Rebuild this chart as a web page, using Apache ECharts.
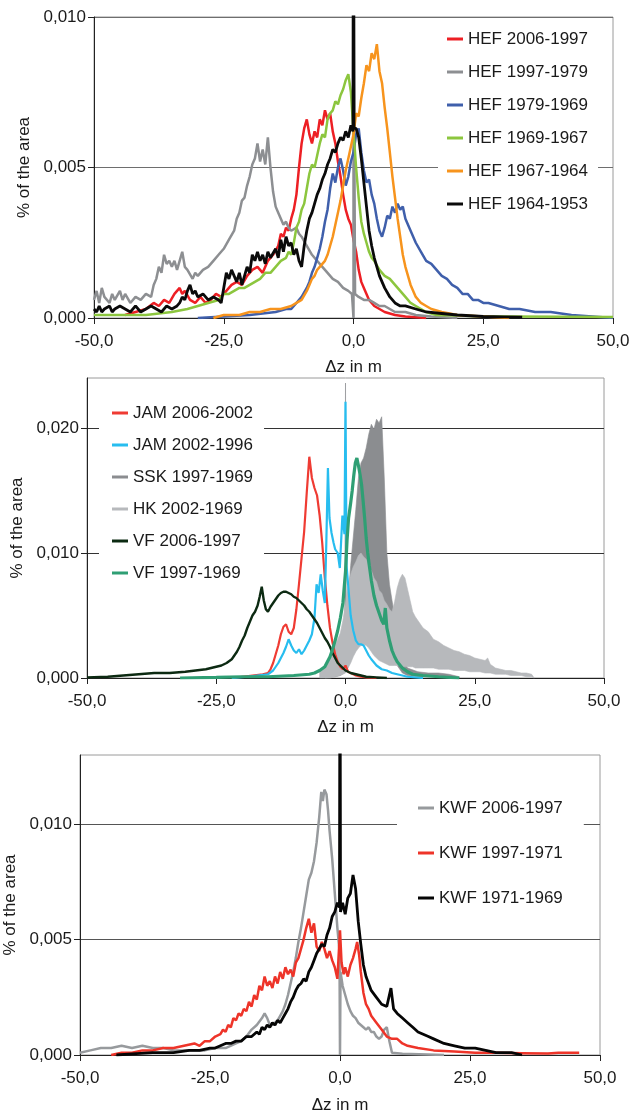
<!DOCTYPE html>
<html>
<head>
<meta charset="utf-8">
<script src="https://cdn.jsdelivr.net/npm/echarts@6/dist/echarts.min.js"></script>
<style>
  html, body { margin: 0; padding: 0; background: #fff; }
  #chart { width: 630px; height: 1115px; }
</style>
</head>
<body>
<div id="chart"></div>
<script>
// ---- data: [dz (m), share of area] ----
// panel 1 (HEF)
const hef2006_1997 = [[-44,0.0001],[-42,0.0002],[-40,0.0003],[-38.5,0.0005],[-37.5,0.0004],[-36.5,0.0006],[-35.5,0.0005],[-34.5,0.0008],[-33.5,0.0010],[-33,0.0008],[-32.5,0.0009],[-31.5,0.0006],[-30.5,0.0005],[-29.5,0.0007],[-28.5,0.0005],[-27.5,0.0006],[-26.5,0.0008],[-25.5,0.0007],[-24.5,0.0009],[-23.5,0.0011],[-22.5,0.0012],[-21.5,0.0011],[-20.5,0.0014],[-19.5,0.0016],[-18.5,0.0017],[-17.5,0.0015],[-16.5,0.0019],[-15.5,0.0021],[-14.5,0.0024],[-14,0.0028],[-13.5,0.0027],[-13,0.0030],[-12.5,0.0029],[-12,0.0033],[-11.5,0.0036],[-11,0.0041],[-10.5,0.0050],[-10,0.0058],[-9.5,0.0063],[-9,0.0066],[-8.5,0.0061],[-8,0.0058],[-7.5,0.0062],[-7,0.0060],[-6.5,0.0066],[-6,0.0064],[-5.5,0.0069],[-5,0.0066],[-4.5,0.0068],[-4,0.0062],[-3.5,0.0058],[-3,0.0052],[-2.5,0.0047],[-2,0.0041],[-1.5,0.0036],[-1,0.0033],[-0.5,0.0031],[0,0.0026],[0.5,0.0022],[1,0.0016],[1.5,0.0012],[2,0.0010],[2.5,0.0008],[3,0.0006],[4,0.0004],[5,0.0003],[6,0.0002],[8,0.0001],[10,0.00005],[14,0]];
const hef1997_1979 = [[-50,0.0006],[-49.5,0.0009],[-49,0.0005],[-48.5,0.0010],[-48,0.0007],[-47,0.0005],[-46.5,0.0008],[-46,0.0006],[-45,0.0009],[-44.5,0.0006],[-44,0.0008],[-43,0.0005],[-42,0.0007],[-41,0.0006],[-40,0.0008],[-39,0.0007],[-38.5,0.0011],[-38,0.0013],[-37.5,0.0017],[-37,0.0015],[-36.5,0.0021],[-36,0.0018],[-35.5,0.0019],[-35,0.0017],[-34.5,0.0019],[-34,0.0016],[-33.5,0.0019],[-33,0.0022],[-32.5,0.0017],[-32,0.0016],[-31,0.0013],[-30.5,0.0015],[-30,0.0014],[-29,0.0016],[-28,0.0017],[-27,0.0019],[-26,0.0021],[-25,0.0023],[-24,0.0026],[-23,0.0029],[-22.5,0.0033],[-22,0.0035],[-21.5,0.0039],[-21,0.0040],[-20.5,0.0044],[-20,0.0047],[-19.5,0.0051],[-19,0.0053],[-18.5,0.0058],[-18,0.0052],[-17.5,0.0056],[-17,0.0051],[-16.5,0.0060],[-16,0.0050],[-15.5,0.0042],[-15,0.0037],[-14.5,0.0035],[-14,0.0033],[-13.5,0.0031],[-13,0.0032],[-12.5,0.0030],[-12,0.0029],[-11,0.0030],[-10.5,0.0028],[-10,0.0027],[-9,0.0024],[-8,0.0021],[-7,0.0019],[-6,0.0017],[-5,0.0015],[-4,0.0013],[-3,0.0012],[-2,0.0010],[-1,0.0009],[-0.3,0.0008],[0,0],[0,0.012],[0.3,0.0008],[1,0.0007],[2,0.0006],[3,0.0006],[4,0.0005],[5,0.0004],[6,0.0004],[7,0.0003],[8,0.0002],[10,0.0002],[12,0.0001],[15,0.00005],[20,0]];
const hef1979_1969 = [[-30,0],[-25,0.00005],[-20,0.0001],[-15,0.0002],[-13,0.0003],[-12,0.0003],[-11,0.0005],[-10,0.0007],[-9,0.0010],[-8.5,0.0012],[-8,0.0015],[-7.5,0.0017],[-7,0.0020],[-6.5,0.0023],[-6,0.0027],[-5.5,0.0032],[-5,0.0036],[-4.5,0.0043],[-4,0.0048],[-3.5,0.0045],[-3,0.0050],[-2.5,0.0053],[-2,0.0049],[-1.5,0.0044],[-1,0.0047],[-0.5,0.0052],[0,0.0055],[0.5,0.0061],[1,0.0063],[1.5,0.0055],[2,0.0049],[2.5,0.0045],[3,0.0046],[3.5,0.0041],[4,0.0038],[4.5,0.0033],[5,0.0029],[5.5,0.0027],[6,0.0030],[6.5,0.0034],[7,0.0033],[7.5,0.0037],[8,0.0035],[8.5,0.0038],[9,0.0036],[9.5,0.0037],[10,0.0033],[10.5,0.0031],[11,0.0029],[11.5,0.0027],[12,0.0025],[13,0.0022],[14,0.0019],[15,0.0018],[16,0.0016],[17,0.0014],[18,0.0013],[19,0.0011],[20,0.0010],[21,0.0008],[22,0.0008],[23,0.0006],[24,0.0006],[25,0.0005],[26,0.0005],[28,0.0004],[30,0.0003],[32,0.0003],[35,0.0002],[38,0.0002],[42,0.0001],[46,0.00005],[50,0]];
const hef1969_1967 = [[-50,0.0001],[-45,0.0001],[-40,0.0001],[-35,0.0002],[-32,0.0003],[-30,0.0004],[-28,0.0005],[-26,0.0006],[-25,0.0008],[-24,0.0008],[-23,0.0009],[-22,0.0010],[-21,0.0010],[-20,0.0011],[-19,0.0012],[-18,0.0013],[-17,0.0015],[-16,0.0015],[-15,0.0017],[-14,0.0019],[-13,0.0020],[-12.5,0.0022],[-12,0.0021],[-11.5,0.0025],[-11,0.0030],[-10.5,0.0032],[-10,0.0036],[-9.5,0.0038],[-9,0.0043],[-8.5,0.0048],[-8,0.0051],[-7.5,0.0050],[-7,0.0054],[-6.5,0.0058],[-6,0.0061],[-5.5,0.0060],[-5,0.0066],[-4.5,0.0068],[-4,0.0069],[-3.5,0.0072],[-3,0.0071],[-2.5,0.0074],[-2,0.0076],[-1.5,0.0079],[-1,0.0081],[-0.5,0.0075],[0,0.0062],[0.5,0.0050],[1,0.0040],[1.5,0.0032],[2,0.0028],[2.5,0.0025],[3,0.0022],[3.5,0.0020],[4,0.0019],[5,0.0016],[6,0.0014],[7,0.0013],[8,0.0011],[9,0.0009],[10,0.0007],[11,0.0005],[12,0.0004],[13,0.0003],[14,0.0002],[16,0.0001],[20,0.00008],[25,0.00005],[30,0.00005],[40,0.00004],[50,0.00003]];
const hef1967_1964 = [[-27,0],[-25,0.0001],[-22,0.0001],[-20,0.0002],[-18,0.0002],[-16,0.0003],[-14,0.0003],[-12,0.0004],[-11,0.0005],[-10,0.0006],[-9,0.0009],[-8.5,0.0011],[-8,0.0013],[-7.5,0.0014],[-7,0.0016],[-6.5,0.0017],[-6,0.0018],[-5.5,0.0019],[-5,0.0021],[-4.5,0.0024],[-4,0.0027],[-3.5,0.0031],[-3,0.0035],[-2.5,0.0039],[-2,0.0044],[-1.5,0.0049],[-1,0.0053],[-0.5,0.0057],[0,0.0061],[0.5,0.0068],[1,0.0067],[1.5,0.0073],[2,0.0078],[2.5,0.0084],[3,0.0082],[3.5,0.0088],[4,0.0086],[4.5,0.0091],[5,0.0082],[5.5,0.0078],[6,0.0070],[6.5,0.0063],[7,0.0055],[7.5,0.0047],[8,0.0040],[8.5,0.0033],[9,0.0027],[9.5,0.0021],[10,0.0017],[11,0.0011],[12,0.0007],[13,0.0005],[14,0.0004],[15,0.0003],[17,0.0002],[20,0.0001],[25,0.00005],[30,0]];
const hef1964_1953 = [[-50,0.0003],[-49.5,0.0002],[-49,0.0004],[-48.5,0.0002],[-48,0.0003],[-47,0.0004],[-46.5,0.0002],[-46,0.0003],[-45,0.0004],[-44,0.0003],[-43,0.0002],[-42,0.0004],[-41,0.0002],[-40,0.0003],[-39,0.0004],[-38,0.0003],[-37,0.0002],[-36,0.0004],[-35,0.0003],[-34,0.0004],[-33.5,0.0005],[-33,0.0007],[-32.5,0.0006],[-32,0.0009],[-31.5,0.0011],[-31,0.0008],[-30.5,0.0009],[-30,0.0007],[-29,0.0008],[-28,0.0006],[-27,0.0007],[-26,0.0006],[-25.5,0.0005],[-25,0.0010],[-24.5,0.0015],[-24,0.0013],[-23.5,0.0016],[-23,0.0014],[-22.5,0.0012],[-22,0.0015],[-21.5,0.0011],[-21,0.0014],[-20.5,0.0017],[-20,0.0015],[-19.5,0.0021],[-19,0.0019],[-18.5,0.0022],[-18,0.0019],[-17.5,0.0021],[-17,0.0018],[-16.5,0.0022],[-16,0.0020],[-15,0.0023],[-14.5,0.0020],[-14,0.0026],[-13.5,0.0022],[-13,0.0027],[-12.5,0.0024],[-12,0.0025],[-11.5,0.0021],[-11,0.0023],[-10.5,0.0019],[-10,0.0017],[-9.5,0.0024],[-9,0.0029],[-8.5,0.0033],[-8,0.0035],[-7.5,0.0038],[-7,0.0041],[-6.5,0.0043],[-6,0.0046],[-5.5,0.0048],[-5,0.0051],[-4.5,0.0053],[-4,0.0056],[-3.5,0.0055],[-3,0.0058],[-2.5,0.0060],[-2,0.0059],[-1.5,0.0062],[-1,0.0060],[-0.5,0.0064],[-0.1,0.0062],[0,0.02],[0.1,0.0063],[0.5,0.0063],[1,0.0060],[1.5,0.0053],[2,0.0045],[2.5,0.0037],[3,0.0029],[3.5,0.0024],[4,0.0020],[4.5,0.0017],[5,0.0014],[6,0.0010],[7,0.0007],[8,0.0005],[9,0.0004],[10,0.0004],[12,0.0003],[14,0.0002],[17,0.00015],[20,0.0001],[25,0.00005],[29,0.00004],[32.5,0.00003]];

// panel 2 (JAM, SSK, HK, VF)
const jam2006_2002 = [[-22,0],[-20,0.0001],[-18,0.0002],[-16,0.0003],[-15,0.0004],[-14.5,0.0007],[-14,0.0012],[-13.5,0.0019],[-13,0.0026],[-12.5,0.0035],[-12,0.0041],[-11.5,0.0043],[-11,0.0037],[-10.5,0.0035],[-10,0.0040],[-9.5,0.0055],[-9,0.0075],[-8.5,0.0096],[-8,0.0117],[-7.5,0.0148],[-7,0.0177],[-6.5,0.0160],[-6,0.0152],[-5.5,0.0146],[-5,0.0130],[-4.5,0.0108],[-4,0.0080],[-3.5,0.0058],[-3,0.0040],[-2.5,0.0028],[-2,0.0019],[-1.5,0.0013],[-1,0.0009],[-0.5,0.0007],[0,0.0010],[0.5,0.0005],[1,0.0004],[2,0.0002],[3,0.0001],[4,0.00005],[6,0]];
const jam2002_1996 = [[-22,0],[-19,0.0001],[-17,0.0002],[-15,0.0003],[-14,0.0006],[-13.5,0.0009],[-13,0.0012],[-12.5,0.0016],[-12,0.0020],[-11.5,0.0025],[-11,0.0031],[-10.5,0.0026],[-10,0.0022],[-9.5,0.0020],[-9,0.0023],[-8.5,0.0019],[-8,0.0022],[-7.5,0.0026],[-7,0.0030],[-6.5,0.0035],[-6,0.0048],[-5.6,0.0075],[-5.2,0.0068],[-4.8,0.0083],[-4.4,0.0070],[-4,0.0060],[-3.7,0.0110],[-3.4,0.0168],[-3.1,0.0128],[-2.7,0.0116],[-2.3,0.0108],[-2,0.0103],[-1.5,0.0100],[-1.1,0.0088],[-0.6,0.0130],[-0.2,0.0115],[0,0.0221],[0.2,0.0090],[0.6,0.0070],[1,0.0050],[1.5,0.0038],[2,0.0030],[2.5,0.0027],[3,0.0027],[3.5,0.0026],[4,0.0022],[4.5,0.0018],[5,0.0015],[6,0.0010],[7,0.0007],[8,0.0006],[9,0.0004],[10,0.0003],[12,0.0001],[15,0]];
// SSK and HK are so noisy that they read as bands: lower / upper envelope
const sskX    = [-4,-2,-1,-0.3,-0.15,0,0.15,0.3,1,2,2.5,3,3.5,4,4.5,5,5.5,6,6.5,7,7.5,8,8.5,9,10,11,12,14,16,18,20,22];
const sskHigh = [0.0002,0.0006,0.0012,0.0025,0.0030,0.0236,0.0040,0.0050,0.0090,0.0135,0.0160,0.0172,0.0176,0.0184,0.0195,0.0203,0.0199,0.0207,0.0204,0.0209,0.0160,0.0100,0.0075,0.0062,0.0035,0.0015,0.0008,0.0005,0.0004,0.0004,0.0003,0.0001];
const sskLow  = [0,0.0001,0.0002,0.0004,0.0005,0.0005,0.0006,0.0007,0.0015,0.0035,0.0045,0.0055,0.0062,0.0068,0.0072,0.0075,0.0075,0.0072,0.0068,0.0062,0.0050,0.0038,0.0028,0.0020,0.0010,0.0004,0.0002,0.0001,0.0001,0.0001,0,0];
const hkX    = [-5,-4,-3,-2,-1,-0.5,0,0.5,1,1.5,2,2.5,3,3.5,4,4.5,5,5.5,6,6.5,7,7.5,8,8.5,9,9.5,10,10.5,11,11.5,12,12.5,13,13.5,14,15,16,17,18,19,20,21,22,23,24,25,26,27,27.5,28,29,30,31,32,33,34,35,36,36.5];
const hkHigh = [0.0005,0.0010,0.0018,0.0026,0.0036,0.0046,0.0060,0.0074,0.0083,0.0089,0.0093,0.0098,0.0100,0.0097,0.0095,0.0089,0.0086,0.0080,0.0077,0.0070,0.0068,0.0062,0.0059,0.0055,0.0053,0.0061,0.0072,0.0079,0.0083,0.0080,0.0071,0.0062,0.0053,0.0049,0.0046,0.0040,0.0037,0.0031,0.0029,0.0026,0.0024,0.0022,0.0021,0.0019,0.0018,0.0016,0.0015,0.0014,0.0016,0.0011,0.0008,0.0007,0.0006,0.0006,0.0005,0.0004,0.0004,0.0003,0];
const hkLow  = [0,0,0,0.0001,0.0002,0.0003,0.0004,0.0008,0.0012,0.0017,0.0021,0.0024,0.0026,0.0027,0.0026,0.0024,0.0021,0.0018,0.0016,0.0014,0.0013,0.0012,0.0011,0.0010,0.0010,0.0010,0.0010,0.0010,0.0009,0.0009,0.0009,0.0009,0.0009,0.0008,0.0008,0.0008,0.0008,0.0008,0.0007,0.0007,0.0007,0.0006,0.0006,0.0006,0.0005,0.0005,0.0005,0.0004,0.0004,0.0004,0.0003,0.0003,0.0003,0.0002,0.0002,0.0002,0.0001,0.0001,0];
const vf2006_1997 = [[-50,0.00005],[-46,0.0001],[-43,0.0002],[-40,0.0003],[-37,0.0004],[-34,0.0004],[-31,0.0005],[-29,0.0006],[-27,0.0007],[-25,0.0009],[-24,0.0010],[-23,0.0012],[-22,0.0015],[-21.5,0.0018],[-21,0.0021],[-20.5,0.0025],[-20,0.0030],[-19.5,0.0034],[-19,0.0040],[-18.5,0.0045],[-18,0.0050],[-17.5,0.0053],[-17,0.0058],[-16.6,0.0065],[-16.2,0.0073],[-15.8,0.0062],[-15.4,0.0055],[-15,0.0053],[-14.5,0.0057],[-14,0.0060],[-13.5,0.0063],[-13,0.0066],[-12.5,0.0068],[-12,0.0069],[-11.5,0.0069],[-11,0.0068],[-10.5,0.0067],[-10,0.0065],[-9.5,0.0064],[-9,0.0062],[-8.5,0.0060],[-8,0.0058],[-7.5,0.0055],[-7,0.0053],[-6.5,0.0050],[-6,0.0047],[-5.5,0.0044],[-5,0.0040],[-4.5,0.0036],[-4,0.0032],[-3.5,0.0029],[-3,0.0025],[-2.5,0.0020],[-2,0.0016],[-1.5,0.0012],[-1,0.0010],[-0.5,0.0008],[0,0.0006],[1,0.0004],[2,0.0003],[3,0.0002],[4,0.0001],[6,0.00005],[8,0]];
const vf1997_1969 = [[-32,0],[-25,0.00005],[-20,0.0001],[-15,0.0001],[-10,0.0002],[-7,0.0003],[-6,0.0004],[-5,0.0006],[-4,0.0009],[-3.5,0.0013],[-3,0.0017],[-2.5,0.0023],[-2,0.0030],[-1.5,0.0038],[-1,0.0048],[-0.5,0.0060],[0,0.0085],[0.3,0.0110],[0.6,0.0128],[1,0.0140],[1.3,0.0150],[1.6,0.0162],[1.9,0.0172],[2.2,0.0176],[2.5,0.0170],[2.8,0.0163],[3.1,0.0155],[3.4,0.0142],[3.7,0.0128],[4,0.0112],[4.3,0.0100],[4.6,0.0090],[5,0.0078],[5.5,0.0066],[6,0.0058],[6.5,0.0052],[7,0.0046],[7.4,0.0043],[7.7,0.0056],[8,0.0040],[8.5,0.0030],[9,0.0022],[9.5,0.0017],[10,0.0013],[11,0.0008],[12,0.0005],[13,0.0003],[15,0.0002],[18,0.0001],[22,0]];

// panel 3 (KWF)
const kwf2006_1997 = [[-50,0.0001],[-48,0.0002],[-46,0.0003],[-44,0.0003],[-42,0.0004],[-40,0.0003],[-38,0.0004],[-36,0.0003],[-34,0.0003],[-32,0.0002],[-30,0.0002],[-28,0.0002],[-26,0.0002],[-24,0.0003],[-22,0.0003],[-20,0.0005],[-19,0.0006],[-18,0.0008],[-17,0.0011],[-16,0.0013],[-15,0.0016],[-14.5,0.0018],[-14,0.0016],[-13.5,0.0013],[-13,0.0013],[-12.5,0.0014],[-12,0.0015],[-11.5,0.0017],[-11,0.0019],[-10.5,0.0022],[-10,0.0026],[-9.5,0.0031],[-9,0.0036],[-8.5,0.0042],[-8,0.0049],[-7.5,0.0055],[-7,0.0062],[-6.5,0.0069],[-6,0.0076],[-5.5,0.0079],[-5,0.0084],[-4.5,0.0092],[-4,0.0103],[-3.6,0.0114],[-3.3,0.0110],[-3,0.0115],[-2.6,0.0113],[-2.3,0.0106],[-2,0.0097],[-1.5,0.0085],[-1,0.0070],[-0.5,0.0055],[-0.1,0.0045],[0,0],[0.1,0.0036],[0.5,0.0030],[1,0.0026],[1.5,0.0022],[2,0.0019],[2.5,0.0017],[3,0.0016],[3.5,0.0014],[4,0.0013],[4.5,0.0012],[5,0.0011],[5.5,0.0012],[6,0.0010],[6.5,0.0010],[7,0.0008],[7.5,0.0007],[8,0.0008],[8.5,0.0011],[9,0.0012],[9.5,0.0006],[10,0.0001],[12,0.00005],[20,0]];
const kwf1997_1971 = [[-44,0],[-42,0.0001],[-40,0.0001],[-38,0.0002],[-36,0.0002],[-34,0.0003],[-32,0.0003],[-30,0.0004],[-28,0.0005],[-27,0.0004],[-26,0.0006],[-25,0.0006],[-24,0.0008],[-23,0.0009],[-22.5,0.0011],[-22,0.0010],[-21.5,0.0013],[-21,0.0012],[-20.5,0.0016],[-20,0.0015],[-19.5,0.0018],[-19,0.0017],[-18.5,0.0020],[-18,0.0019],[-17.5,0.0023],[-17,0.0021],[-16.5,0.0026],[-16,0.0024],[-15.5,0.0030],[-15,0.0028],[-14.5,0.0034],[-14,0.0030],[-13.5,0.0032],[-13,0.0029],[-12.5,0.0034],[-12,0.0031],[-11.5,0.0036],[-11,0.0033],[-10.5,0.0038],[-10,0.0035],[-9.5,0.0037],[-9,0.0034],[-8.5,0.0040],[-8,0.0042],[-7.5,0.0046],[-7,0.0050],[-6.5,0.0055],[-6,0.0059],[-5.5,0.0053],[-5,0.0057],[-4.5,0.0047],[-4,0.0045],[-3.5,0.0049],[-3,0.0046],[-2.5,0.0042],[-2,0.0045],[-1.5,0.0041],[-1,0.0038],[-0.5,0.0033],[0,0.0054],[0.3,0.0040],[0.7,0.0035],[1,0.0038],[1.5,0.0034],[2,0.0039],[2.5,0.0042],[3,0.0046],[3.3,0.0049],[3.7,0.0043],[4,0.0036],[4.5,0.0027],[5,0.0022],[5.5,0.0020],[6,0.0017],[7,0.0014],[8,0.0011],[9,0.0008],[10,0.0007],[11,0.0007],[12,0.0005],[13,0.0004],[15,0.0003],[18,0.0002],[22,0.00015],[26,0.0001],[30,0.0001],[35,0.00008],[40,0.00006],[42,0.0001],[46,0.0001]];
const kwf1971_1969 = [[-43,0],[-40,0.00005],[-36,0.0001],[-32,0.0001],[-29,0.0002],[-27,0.0002],[-25,0.0003],[-24,0.0003],[-23,0.0004],[-22,0.0005],[-21,0.0005],[-20,0.0006],[-19,0.0006],[-18,0.0008],[-17,0.0008],[-16,0.0010],[-15.5,0.0009],[-15,0.0012],[-14.5,0.0011],[-14,0.0013],[-13.5,0.0012],[-13,0.0014],[-12.5,0.0013],[-12,0.0015],[-11.5,0.0014],[-11,0.0016],[-10.5,0.0018],[-10,0.0020],[-9.5,0.0023],[-9,0.0025],[-8.5,0.0028],[-8,0.0030],[-7.5,0.0031],[-7,0.0033],[-6.5,0.0032],[-6,0.0036],[-5.5,0.0038],[-5,0.0041],[-4.5,0.0044],[-4,0.0046],[-3.5,0.0048],[-3,0.0047],[-2.5,0.0052],[-2,0.0055],[-1.5,0.0060],[-1,0.0062],[-0.5,0.0066],[-0.1,0.0064],[0,0.02],[0.1,0.0062],[0.5,0.0066],[1,0.0061],[1.5,0.0068],[2,0.0070],[2.5,0.0078],[3,0.0072],[3.5,0.0058],[4,0.0048],[4.5,0.0039],[5,0.0034],[5.5,0.0031],[6,0.0028],[7,0.0025],[8,0.0022],[9,0.0021],[9.8,0.0029],[10.3,0.0020],[11,0.0018],[12,0.0016],[13,0.0014],[14,0.0012],[15,0.0010],[16,0.0009],[17,0.0008],[18,0.0007],[20,0.0005],[22,0.0004],[24,0.0003],[26,0.0003],[28,0.0002],[30,0.0001],[33,0.0001],[35,0]];

const FONT = '"Liberation Sans", Arial, sans-serif';
const TXT = '#1a1a1a';

const chart = echarts.init(document.getElementById('chart'), null, { renderer: 'canvas' });

function comma(d) {
  return function (v) { return v.toFixed(d).replace('.', ','); };
}

function xAxis(gi, gap) {
  return {
    type: 'value', gridIndex: gi, min: -50, max: 50, interval: 25,
    axisLine: { show: true, onZero: false, lineStyle: { color: '#222', width: 1 } },
    axisTick: { show: true, length: 6, lineStyle: { color: '#222' } },
    axisLabel: { formatter: comma(1), fontSize: 17, color: TXT, margin: 15, fontFamily: FONT },
    splitLine: { show: false },
    name: 'Δz in m', nameLocation: 'middle', nameGap: gap,
    nameTextStyle: { fontSize: 17, color: TXT, fontFamily: FONT }
  };
}

// ticks: the labelled values (the axis max may lie above the last one)
function yAxis(gi, max, interval, ticks, gridColor) {
  return {
    type: 'value', gridIndex: gi, min: 0, max: max, interval: interval,
    axisLine: { show: true, onZero: false, lineStyle: { color: '#222', width: 1 } },
    axisTick: { show: true, length: 6, lineStyle: { color: '#222' }, customValues: ticks },
    axisLabel: { formatter: comma(3), fontSize: 17, color: TXT, margin: 8, fontFamily: FONT,
                 customValues: ticks },
    splitLine: { show: true, lineStyle: { color: gridColor, width: 1 } },
    name: '% of the area', nameLocation: 'middle', nameGap: 51, nameRotate: 90,
    nameTextStyle: { fontSize: 17, color: TXT, fontFamily: FONT }
  };
}

function line(name, data, color, gi, width) {
  return {
    type: 'line', name: name, data: data, xAxisIndex: gi, yAxisIndex: gi,
    symbol: 'none', showSymbol: false, clip: true,
    color: color,
    lineStyle: { color: color, width: width || 2.5 },
    emphasis: { disabled: true }
  };
}

// noisy histogram drawn as a filled band between two envelopes
function band(name, xs, low, high, color, gi) {
  const pts = xs.map(function (x, i) { return [x, low[i], high[i]]; });
  return {
    type: 'custom', name: name, xAxisIndex: gi, yAxisIndex: gi,
    data: pts, encode: { x: 0, y: [1, 2] },
    itemStyle: { color: color },
    renderItem: function (params, api) {
      if (params.dataIndex !== 0) return null;
      const top = pts.map(function (p) { return api.coord([p[0], p[2]]); });
      const bot = pts.slice().reverse().map(function (p) { return api.coord([p[0], p[1]]); });
      return {
        type: 'polygon',
        shape: { points: top.concat(bot) },
        style: { fill: color, stroke: color, lineWidth: 0.6 }
      };
    }
  };
}

function legend(names, left, top, gap, pad) {
  return {
    data: names, orient: 'vertical', left: left, top: top, itemGap: gap,
    icon: 'rect', itemWidth: 16, itemHeight: 3,
    backgroundColor: '#fff', padding: pad,
    textStyle: { fontSize: 17, color: TXT, fontFamily: FONT, lineHeight: 20 },
    selectedMode: false
  };
}

const option = {
  animation: false,
  backgroundColor: '#fff',
  textStyle: { fontFamily: FONT },
  grid: [
    { left: 94, top: 17, width: 519, height: 301, show: true, borderColor: '#9a9a9a', borderWidth: 1, outerBoundsMode: 'none' },
    { left: 87, top: 378, width: 517, height: 300, show: true, borderColor: '#9a9a9a', borderWidth: 1, outerBoundsMode: 'none' },
    { left: 80, top: 755, width: 520, height: 300, show: true, borderColor: '#9a9a9a', borderWidth: 1, outerBoundsMode: 'none' }
  ],
  xAxis: [xAxis(0, 41), xAxis(1, 41), xAxis(2, 42)],
  yAxis: [
    yAxis(0, 0.010, 0.005, [0, 0.005, 0.010], '#6e6e6e'),
    yAxis(1, 0.024, 0.010, [0, 0.010, 0.020], '#333'),
    yAxis(2, 0.013, 0.005, [0, 0.005, 0.010], '#555')
  ],
  legend: [
    legend(['HEF 2006-1997', 'HEF 1997-1979', 'HEF 1979-1969', 'HEF 1969-1967', 'HEF 1967-1964', 'HEF 1964-1953'],
           438, 21, 13, [8, 10, 6, 9]),
    legend(['JAM 2006-2002', 'JAM 2002-1996', 'SSK 1997-1969', 'HK 2002-1969', 'VF 2006-1997', 'VF 1997-1969'],
           99, 395, 12, [8, 11, 3, 13]),
    legend(['KWF 2006-1997', 'KWF 1997-1971', 'KWF 1971-1969'],
           397, 790, 25, [8, 21, 8, 21])
  ],
  series: [
    line('HEF 2006-1997', hef2006_1997, '#ed1f24', 0),
    line('HEF 1997-1979', hef1997_1979, '#8d8f92', 0),
    line('HEF 1979-1969', hef1979_1969, '#3f5fab', 0),
    line('HEF 1969-1967', hef1969_1967, '#8cc63e', 0),
    line('HEF 1967-1964', hef1967_1964, '#f7941d', 0),
    line('HEF 1964-1953', hef1964_1953, '#0a0a0a', 0, 2.8),

    band('SSK 1997-1969', sskX, sskLow, sskHigh, '#8b8d90', 1),
    band('HK 2002-1969', hkX, hkLow, hkHigh, '#b7b9bc', 1),
    line('JAM 2006-2002', jam2006_2002, '#ef3b33', 1, 2.2),
    line('JAM 2002-1996', jam2002_1996, '#27bdef', 1, 2.2),
    line('VF 2006-1997', vf2006_1997, '#0c2a12', 1, 2.4),
    line('VF 1997-1969', vf1997_1969, '#2f9f74', 1, 3.2),

    line('KWF 2006-1997', kwf2006_1997, '#979a9d', 2),
    line('KWF 1997-1971', kwf1997_1971, '#ee3429', 2),
    line('KWF 1971-1969', kwf1971_1969, '#050505', 2, 2.8)
  ]
};

chart.setOption(option);
</script>
</body>
</html>
